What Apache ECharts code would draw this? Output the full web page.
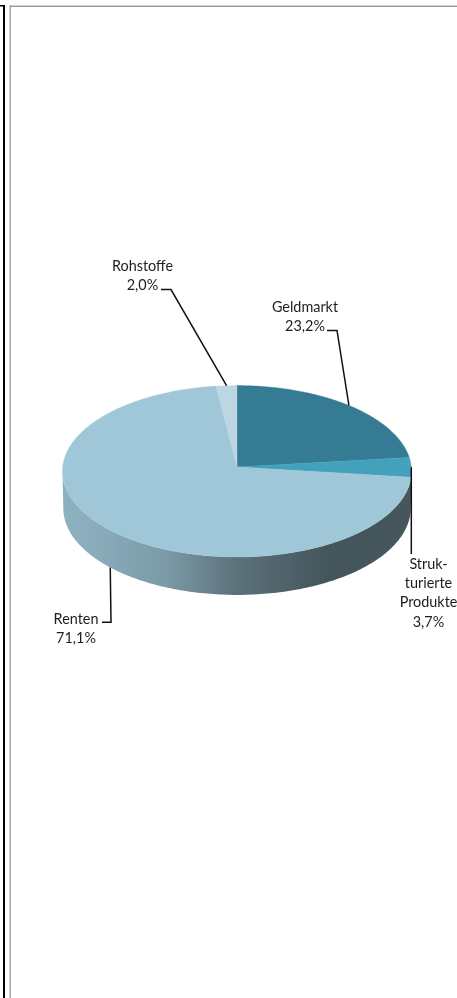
<!DOCTYPE html>
<html lang="de">
<head>
<meta charset="utf-8">
<title>Anlageklassen</title>
<style>html,body{margin:0;padding:0;background:#fff}#chart{width:457px;height:998px}</style>
<script src="https://cdn.jsdelivr.net/npm/echarts@6/dist/echarts.min.js"></script>
</head>
<body>
<div id="chart"></div>
<script>
// Portfolio shares in percent, clockwise from twelve o'clock
const segments = ['Geldmarkt', 'Strukturierte Produkte', 'Renten', 'Rohstoffe'];
const shares = [23.2, 3.7, 71.1, 2.0];
const labelLines = [['Geldmarkt'], ['Struk-', 'turierte', 'Produkte'], ['Renten'], ['Rohstoffe']];

const sliceColors = ['#347b93', '#44a1bb', '#9fc7d8', '#bcd6e2'];

// Label block centre, first baseline row and the leader's path from text to pie
const labelLayout = [
  { x: 305, y: 307, elbow: [[327, 330.5], [337, 330.5]] },
  { x: 428.5, y: 564, elbow: [[411.3, 554]] },
  { x: 76, y: 619, elbow: [[102, 622.3], [111, 622.3]] },
  { x: 142.5, y: 266, elbow: [[161, 289.5], [171, 289.5]] }
];
const lineHeight = 19.4;
const fontFamily = 'Lato, Carlito, sans-serif';

// Perspective projection of the disc: tilt flattens it, depth foreshortens the far side
const centre = [237, 467];
const radiusX = 174.3, radiusY = 85.5, depth = 0.0496;
const wallDrop = 37, lowerRadiusX = 173.5, lowerRadiusY = 86.4;

function rim(angle, lower) {
  const c = Math.cos(angle), s = Math.sin(angle), w = 1 + depth * c;
  return lower
    ? [centre[0] + lowerRadiusX * s / w, centre[1] + wallDrop - lowerRadiusY * c / w]
    : [centre[0] + radiusX * s / w, centre[1] - radiusY * c / w];
}

function arc(from, to, lower) {
  const steps = Math.max(2, Math.ceil(Math.abs(to - from) / (Math.PI / 180)));
  const pts = [];
  for (let i = 0; i <= steps; i++) pts.push(rim(from + (to - from) * i / steps, lower));
  return pts;
}

const total = shares.reduce((a, b) => a + b, 0);
function sliceAngles(index) {
  let before = 0;
  for (let i = 0; i < index; i++) before += shares[i];
  return [before / total * Math.PI * 2, (before + shares[index]) / total * Math.PI * 2];
}

const percent = v => v.toFixed(1).replace('.', ',') + '%';

// Front wall of the drum, shaded dark towards the right
function renderWall() {
  const start = Math.acos(-depth), end = Math.PI * 2 - start;
  const points = arc(start, end, false).concat(arc(end, start, true));
  return {
    type: 'polygon',
    shape: { points },
    style: {
      fill: new echarts.graphic.LinearGradient(62, 0, 412, 0, [
        { offset: 0, color: '#8fb2c2' },
        { offset: 0.12, color: '#88aab9' },
        { offset: 0.3, color: '#7a9aa7' },
        { offset: 0.5, color: '#5c717a' },
        { offset: 0.76, color: '#45555c' },
        { offset: 1, color: '#46565d' }
      ], true)
    }
  };
}

function renderSlice(params) {
  const [from, to] = sliceAngles(params.dataIndex);
  const color = sliceColors[params.dataIndex];
  return {
    type: 'polygon',
    shape: { points: [centre].concat(arc(from, to, false)) },
    style: { fill: color, stroke: color, lineWidth: 0.4 }
  };
}

function renderLabel(params, api) {
  const i = params.dataIndex;
  const layout = labelLayout[i];
  const [from, to] = sliceAngles(i);
  const mid = (from + to) / 2;
  // Leaders of front slices meet the lower edge of the wall
  const anchor = rim(mid, Math.cos(mid) < -0.1);
  const children = [{
    type: 'polyline',
    shape: { points: layout.elbow.concat([anchor]) },
    style: { stroke: '#111', lineWidth: 1.5, fill: null }
  }];
  labelLines[i].concat([percent(api.value(1))]).forEach((text, row) => {
    children.push({
      type: 'text',
      style: {
        x: layout.x, y: layout.y + row * lineHeight, text,
        fill: '#1e1e1e', font: '14.4px ' + fontFamily,
        textAlign: 'center', textVerticalAlign: 'middle'
      }
    });
  });
  return { type: 'group', children };
}

const rows = segments.map((name, i) => [name, shares[i]]);
const chart = echarts.init(document.getElementById('chart'), null, { renderer: 'canvas' });
chart.setOption({
  animation: false,
  backgroundColor: '#fff',
  graphic: [
    { type: 'rect', shape: { x: 0, y: 5, width: 5, height: 1.5 }, style: { fill: '#000' } },
    { type: 'rect', shape: { x: 3, y: 5, width: 2, height: 993 }, style: { fill: '#000' } },
    { type: 'rect', shape: { x: 9, y: 5, width: 448, height: 1 }, style: { fill: '#cfcfcf' } },
    { type: 'rect', shape: { x: 9, y: 6, width: 448, height: 1 }, style: { fill: '#9a9a9a' } },
    { type: 'rect', shape: { x: 9, y: 5, width: 1, height: 993 }, style: { fill: '#cfcfcf' } },
    { type: 'rect', shape: { x: 10, y: 5, width: 1, height: 993 }, style: { fill: '#a8a8a8' } }
  ],
  series: [
    { type: 'custom', coordinateSystem: 'none', silent: true, z: 1, renderItem: renderWall, data: [[0]] },
    { type: 'custom', coordinateSystem: 'none', silent: true, z: 2, renderItem: renderSlice, data: rows },
    { type: 'custom', coordinateSystem: 'none', silent: true, z: 3, renderItem: renderLabel, data: rows }
  ]
});
</script>
</body>
</html>
